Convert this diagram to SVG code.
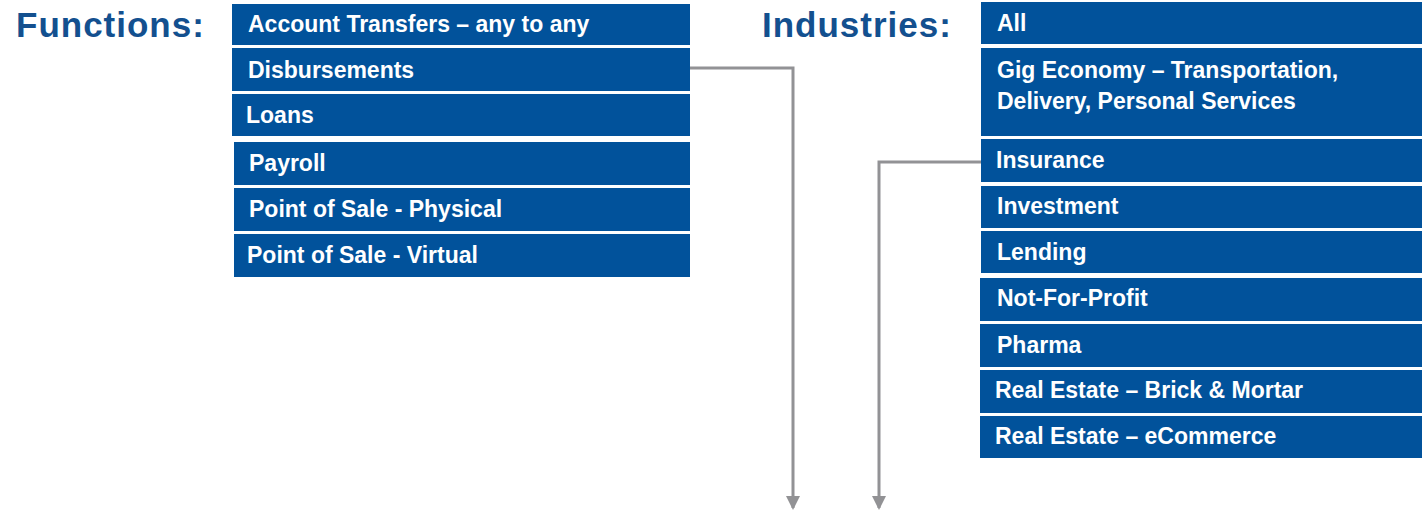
<svg xmlns="http://www.w3.org/2000/svg" width="1422" height="512" viewBox="0 0 1422 512">
  <style>
    .title { font-family: "Liberation Sans", Arial, sans-serif; font-weight: bold; font-size: 35px; letter-spacing: 1px; fill: #13508f; }
    .box { fill: #01529b; }
    .label { font-family: "Liberation Sans", Arial, sans-serif; font-weight: bold; font-size: 23px; fill: #ffffff; }
    .wire { fill: none; stroke: #929295; stroke-width: 3; }
  </style>
  <defs>
    <marker id="arrow" viewBox="0 0 14 14" refX="12" refY="7" markerWidth="14" markerHeight="14" markerUnits="userSpaceOnUse" orient="auto">
      <path d="M0,0 L14,7 L0,14 Z" fill="#929295"/>
    </marker>
  </defs>
  <rect width="1422" height="512" fill="#ffffff"/>

  <!-- section headings -->
  <text class="title" x="16" y="37">Functions:</text>
  <text class="title" x="762" y="37">Industries:</text>

  <!-- functions column -->
  <g id="fn-account-transfers"><rect class="box" x="232" y="4" width="458" height="41"/><text class="label" x="248" y="32">Account Transfers – any to any</text></g>
  <g id="fn-disbursements"><rect class="box" x="232" y="48" width="458" height="43"/><text class="label" x="248" y="78">Disbursements</text></g>
  <g id="fn-loans"><rect class="box" x="232" y="94" width="458" height="42"/><text class="label" x="246" y="123">Loans</text></g>
  <g id="fn-payroll"><rect class="box" x="234" y="142" width="456" height="43"/><text class="label" x="249" y="171">Payroll</text></g>
  <g id="fn-pos-physical"><rect class="box" x="234" y="188" width="456" height="43"/><text class="label" x="249" y="217">Point of Sale - Physical</text></g>
  <g id="fn-pos-virtual"><rect class="box" x="234" y="234" width="456" height="43"/><text class="label" x="247" y="263">Point of Sale - Virtual</text></g>

  <!-- industries column -->
  <g id="ind-all"><rect class="box" x="981" y="2" width="441" height="42"/><text class="label" x="997" y="31">All</text></g>
  <g id="ind-gig"><rect class="box" x="981" y="48" width="441" height="88"/><text class="label" x="997" y="78">Gig Economy – Transportation,</text><text class="label" x="997" y="109">Delivery, Personal Services</text></g>
  <g id="ind-insurance"><rect class="box" x="981" y="139" width="441" height="43"/><text class="label" x="996" y="168">Insurance</text></g>
  <g id="ind-investment"><rect class="box" x="981" y="186" width="441" height="42"/><text class="label" x="997" y="214">Investment</text></g>
  <g id="ind-lending"><rect class="box" x="981" y="231" width="441" height="42"/><text class="label" x="997" y="260">Lending</text></g>
  <g id="ind-nfp"><rect class="box" x="980" y="278" width="442" height="43"/><text class="label" x="997" y="306">Not-For-Profit</text></g>
  <g id="ind-pharma"><rect class="box" x="980" y="324" width="442" height="43"/><text class="label" x="997" y="353">Pharma</text></g>
  <g id="ind-re-brick"><rect class="box" x="980" y="370" width="442" height="43"/><text class="label" x="995" y="398">Real Estate – Brick &amp; Mortar</text></g>
  <g id="ind-re-ecommerce"><rect class="box" x="980" y="416" width="442" height="42"/><text class="label" x="995" y="444">Real Estate – eCommerce</text></g>

  <!-- connectors -->
  <g id="connectors">
    <path class="wire" d="M690,68 H793 V508" marker-end="url(#arrow)"/>
    <path class="wire" d="M981,162 H879 V508" marker-end="url(#arrow)"/>
  </g>
</svg>
